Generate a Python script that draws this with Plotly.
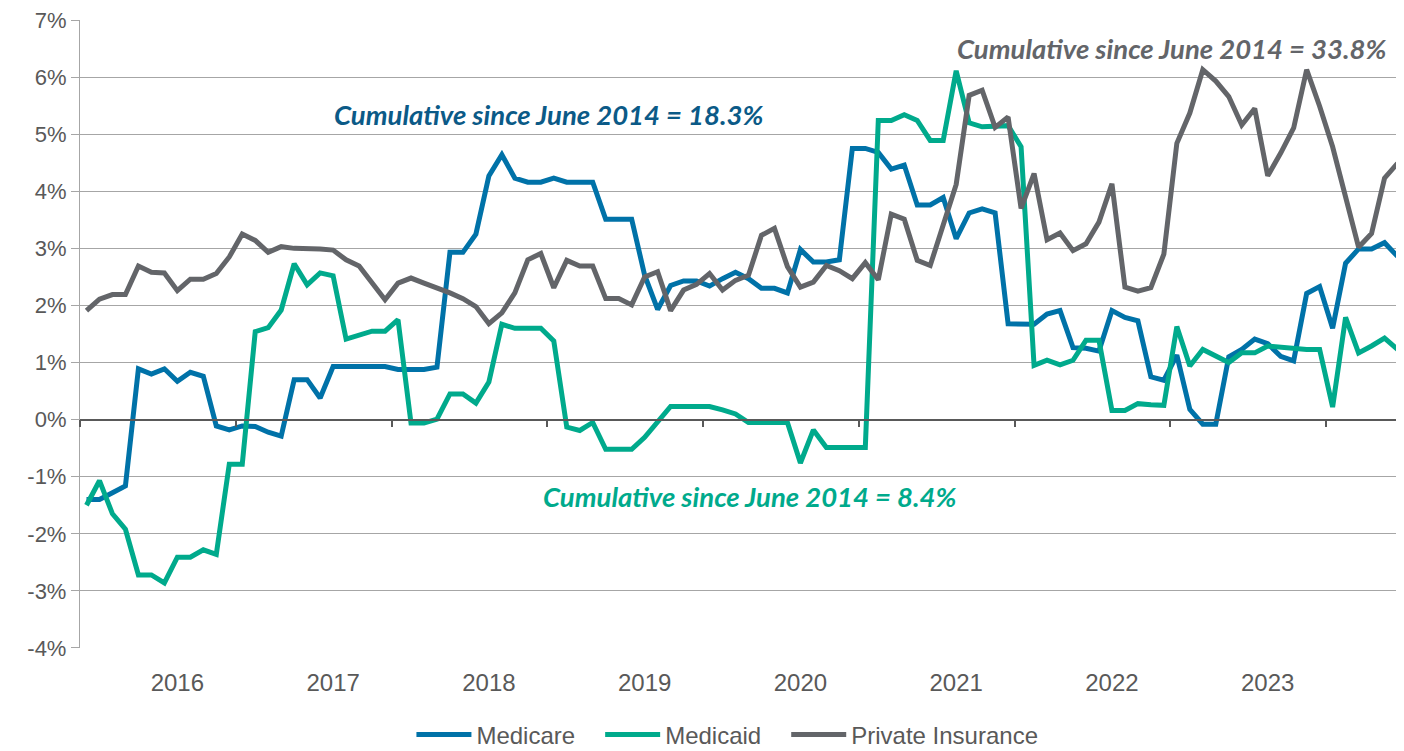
import numpy as np
import pandas as pd
import plotly.graph_objects as go

# monthly, June 2015 .. November 2023
MONTHS = pd.date_range("2015-06-01", periods=102, freq="MS").strftime("%Y-%m").tolist()
YEAR_LABELS = ["2016", "2017", "2018", "2019", "2020", "2021", "2022", "2023"]

medicare = [
    -1.40, -1.40, -1.28, -1.16, 0.89, 0.80, 0.89, 0.67, 0.83, 0.76,
    -0.11, -0.18, -0.11, -0.12, -0.22, -0.29, 0.70, 0.70, 0.38, 0.93,
    0.93, 0.93, 0.93, 0.93, 0.88, 0.88, 0.88, 0.92, 2.93, 2.93,
    3.25, 4.27, 4.64, 4.23, 4.16, 4.16, 4.23, 4.16, 4.16, 4.16,
    3.51, 3.51, 3.51, 2.53, 1.93, 2.35, 2.43, 2.43, 2.34, 2.47,
    2.58, 2.47, 2.30, 2.30, 2.22, 2.98, 2.76, 2.76, 2.80, 4.75,
    4.75, 4.68, 4.39, 4.46, 3.76, 3.76, 3.89, 3.17, 3.62, 3.69,
    3.62, 1.68, 1.68, 1.67, 1.85, 1.91, 1.26, 1.25, 1.20, 1.91,
    1.79, 1.73, 0.75, 0.69, 1.13, 0.18, -0.08, -0.08, 1.10, 1.23,
    1.41, 1.33, 1.11, 1.03, 2.21, 2.33, 1.60, 2.74, 2.99, 2.99,
    3.10, 2.86,
]
medicaid = [
    -1.50, -1.07, -1.65, -1.92, -2.72, -2.72, -2.86, -2.41, -2.41, -2.28,
    -2.36, -0.78, -0.78, 1.54, 1.61, 1.92, 2.73, 2.36, 2.57, 2.52,
    1.41, 1.48, 1.55, 1.55, 1.75, -0.06, -0.06, 0.01, 0.45, 0.45,
    0.29, 0.66, 1.67, 1.60, 1.60, 1.60, 1.38, -0.13, -0.19, -0.05,
    -0.52, -0.52, -0.52, -0.31, -0.05, 0.23, 0.23, 0.23, 0.23, 0.17,
    0.10, -0.05, -0.05, -0.05, -0.05, -0.76, -0.18, -0.49, -0.49, -0.49,
    -0.49, 5.24, 5.24, 5.34, 5.24, 4.89, 4.89, 6.11, 5.20, 5.13,
    5.13, 5.15, 4.78, 0.95, 1.04, 0.96, 1.04, 1.39, 1.39, 0.16,
    0.16, 0.28, 0.26, 0.25, 1.63, 0.94, 1.23, 1.12, 1.00, 1.17,
    1.17, 1.29, 1.27, 1.23, 1.23, 1.23, 0.22, 1.79, 1.17, 1.29,
    1.43, 1.23,
]
private = [
    1.91, 2.11, 2.19, 2.19, 2.69, 2.58, 2.57, 2.26, 2.46, 2.46,
    2.56, 2.85, 3.25, 3.14, 2.93, 3.03, 3.00, 3.00, 2.99, 2.97,
    2.80, 2.69, 2.41, 2.10, 2.39, 2.48, 2.39, 2.31, 2.22, 2.12,
    1.98, 1.68, 1.87, 2.22, 2.80, 2.91, 2.31, 2.79, 2.69, 2.69,
    2.12, 2.12, 2.01, 2.50, 2.59, 1.91, 2.27, 2.37, 2.56, 2.27,
    2.44, 2.53, 3.23, 3.35, 2.68, 2.32, 2.41, 2.70, 2.61, 2.47,
    2.75, 2.45, 3.60, 3.51, 2.79, 2.70, 3.41, 4.12, 5.68, 5.77,
    5.12, 5.30, 3.70, 4.31, 3.15, 3.27, 2.96, 3.08, 3.46, 4.13,
    2.32, 2.25, 2.31, 2.90, 4.84, 5.37, 6.13, 5.93, 5.66, 5.16,
    5.45, 4.27, 4.67, 5.11, 6.13, 5.49, 4.78, 3.93, 3.02, 3.26,
    4.23, 4.49,
]

Y_TICKS = list(range(-4, 8))

BLUE = "#0072A8"
TEAL = "#00AA8C"
GRAY = "#636569"
TXT = "#595959"
GRID = "#A6A6A6"
SANS = "Liberation Sans, Arial, sans-serif"
PAD = "\u00a0" * 3  # extra room between legend entries

x = np.arange(len(MONTHS))
year_pos = [MONTHS.index(f"{y}-01") for y in YEAR_LABELS]

fig = go.Figure()
for name, vals, col in [("Medicare", medicare, BLUE), ("Medicaid", medicaid, TEAL),
                        ("Private Insurance", private, GRAY)]:
    label = name if name == "Private Insurance" else name + PAD
    fig.add_trace(go.Scatter(x=x, y=vals, mode="lines", name=label, customdata=MONTHS,
                             line=dict(color=col, width=5),
                             hovertemplate=name + " %{customdata}: %{y:.2f}%<extra></extra>"))
# empty trace so the bottom label axis gets drawn
fig.add_trace(go.Scatter(x=[None], y=[None], xaxis="x2", showlegend=False, hoverinfo="skip"))

notes = [
    ("Cumulative since June 2014 = 18.3%", 35.6, 5.34, "#0B5A87"),
    ("Cumulative since June 2014 = 33.8%", 83.6, 6.51, GRAY),
    ("Cumulative since June 2014 = 8.4%", 51.1, -1.35, TEAL),
]
for txt, ax_, ay_, col in notes:
    fig.add_annotation(x=ax_, y=ay_, text=f"<b><i>{txt}</i></b>", showarrow=False,
                       font=dict(family="Lato, Open Sans, sans-serif", size=27.5, color=col))

n = len(MONTHS)
# page body has an 8px margin, so the figure is 8px smaller and margins shifted
fig.update_layout(
    width=1396, height=743,
    margin=dict(l=72, r=0, t=12, b=103, autoexpand=False),
    plot_bgcolor="white", paper_bgcolor="white",
    font=dict(family=SANS, size=24, color=TXT),
    showlegend=True,
    legend=dict(orientation="h", x=0.489, xanchor="center", y=-0.1385, yanchor="middle",
                font=dict(family=SANS, size=24, color=TXT), itemwidth=55,
                traceorder="normal"),
    # the x axis line sits on 0% with tick marks every 12 months
    xaxis=dict(range=[-0.5, n - 0.5], anchor="free", position=4 / 11,
               showline=True, linecolor="#595959", linewidth=1.5,
               ticks="outside", ticklen=7, tickcolor="#595959", tickwidth=1.5,
               tickvals=list(np.arange(-0.5, n, 12)), showticklabels=False,
               showgrid=False, zeroline=False, automargin=False),
    # year labels at the bottom
    xaxis2=dict(range=[-0.5, n - 0.5], overlaying="x", anchor="y", side="bottom",
                tickvals=year_pos, ticktext=YEAR_LABELS,
                ticks="outside", ticklen=13, tickcolor="rgba(0,0,0,0)",
                showline=False, showgrid=False, zeroline=False, automargin=False,
                tickfont=dict(family=SANS, size=24, color=TXT)),
    yaxis=dict(range=[-4.0005, 7.0005], tickvals=Y_TICKS, ticktext=[f"{v}%" for v in Y_TICKS],
               showgrid=True, gridcolor=GRID, gridwidth=1.3,
               showline=True, linecolor=GRID, linewidth=1.3,
               ticks="outside", ticklen=8, tickcolor=GRID, tickwidth=1.3,
               zeroline=False, automargin=False, ticklabeloverflow="allow",
               tickfont=dict(family=SANS, size=22, color=TXT)),
)

fig.write_html("out.html")
